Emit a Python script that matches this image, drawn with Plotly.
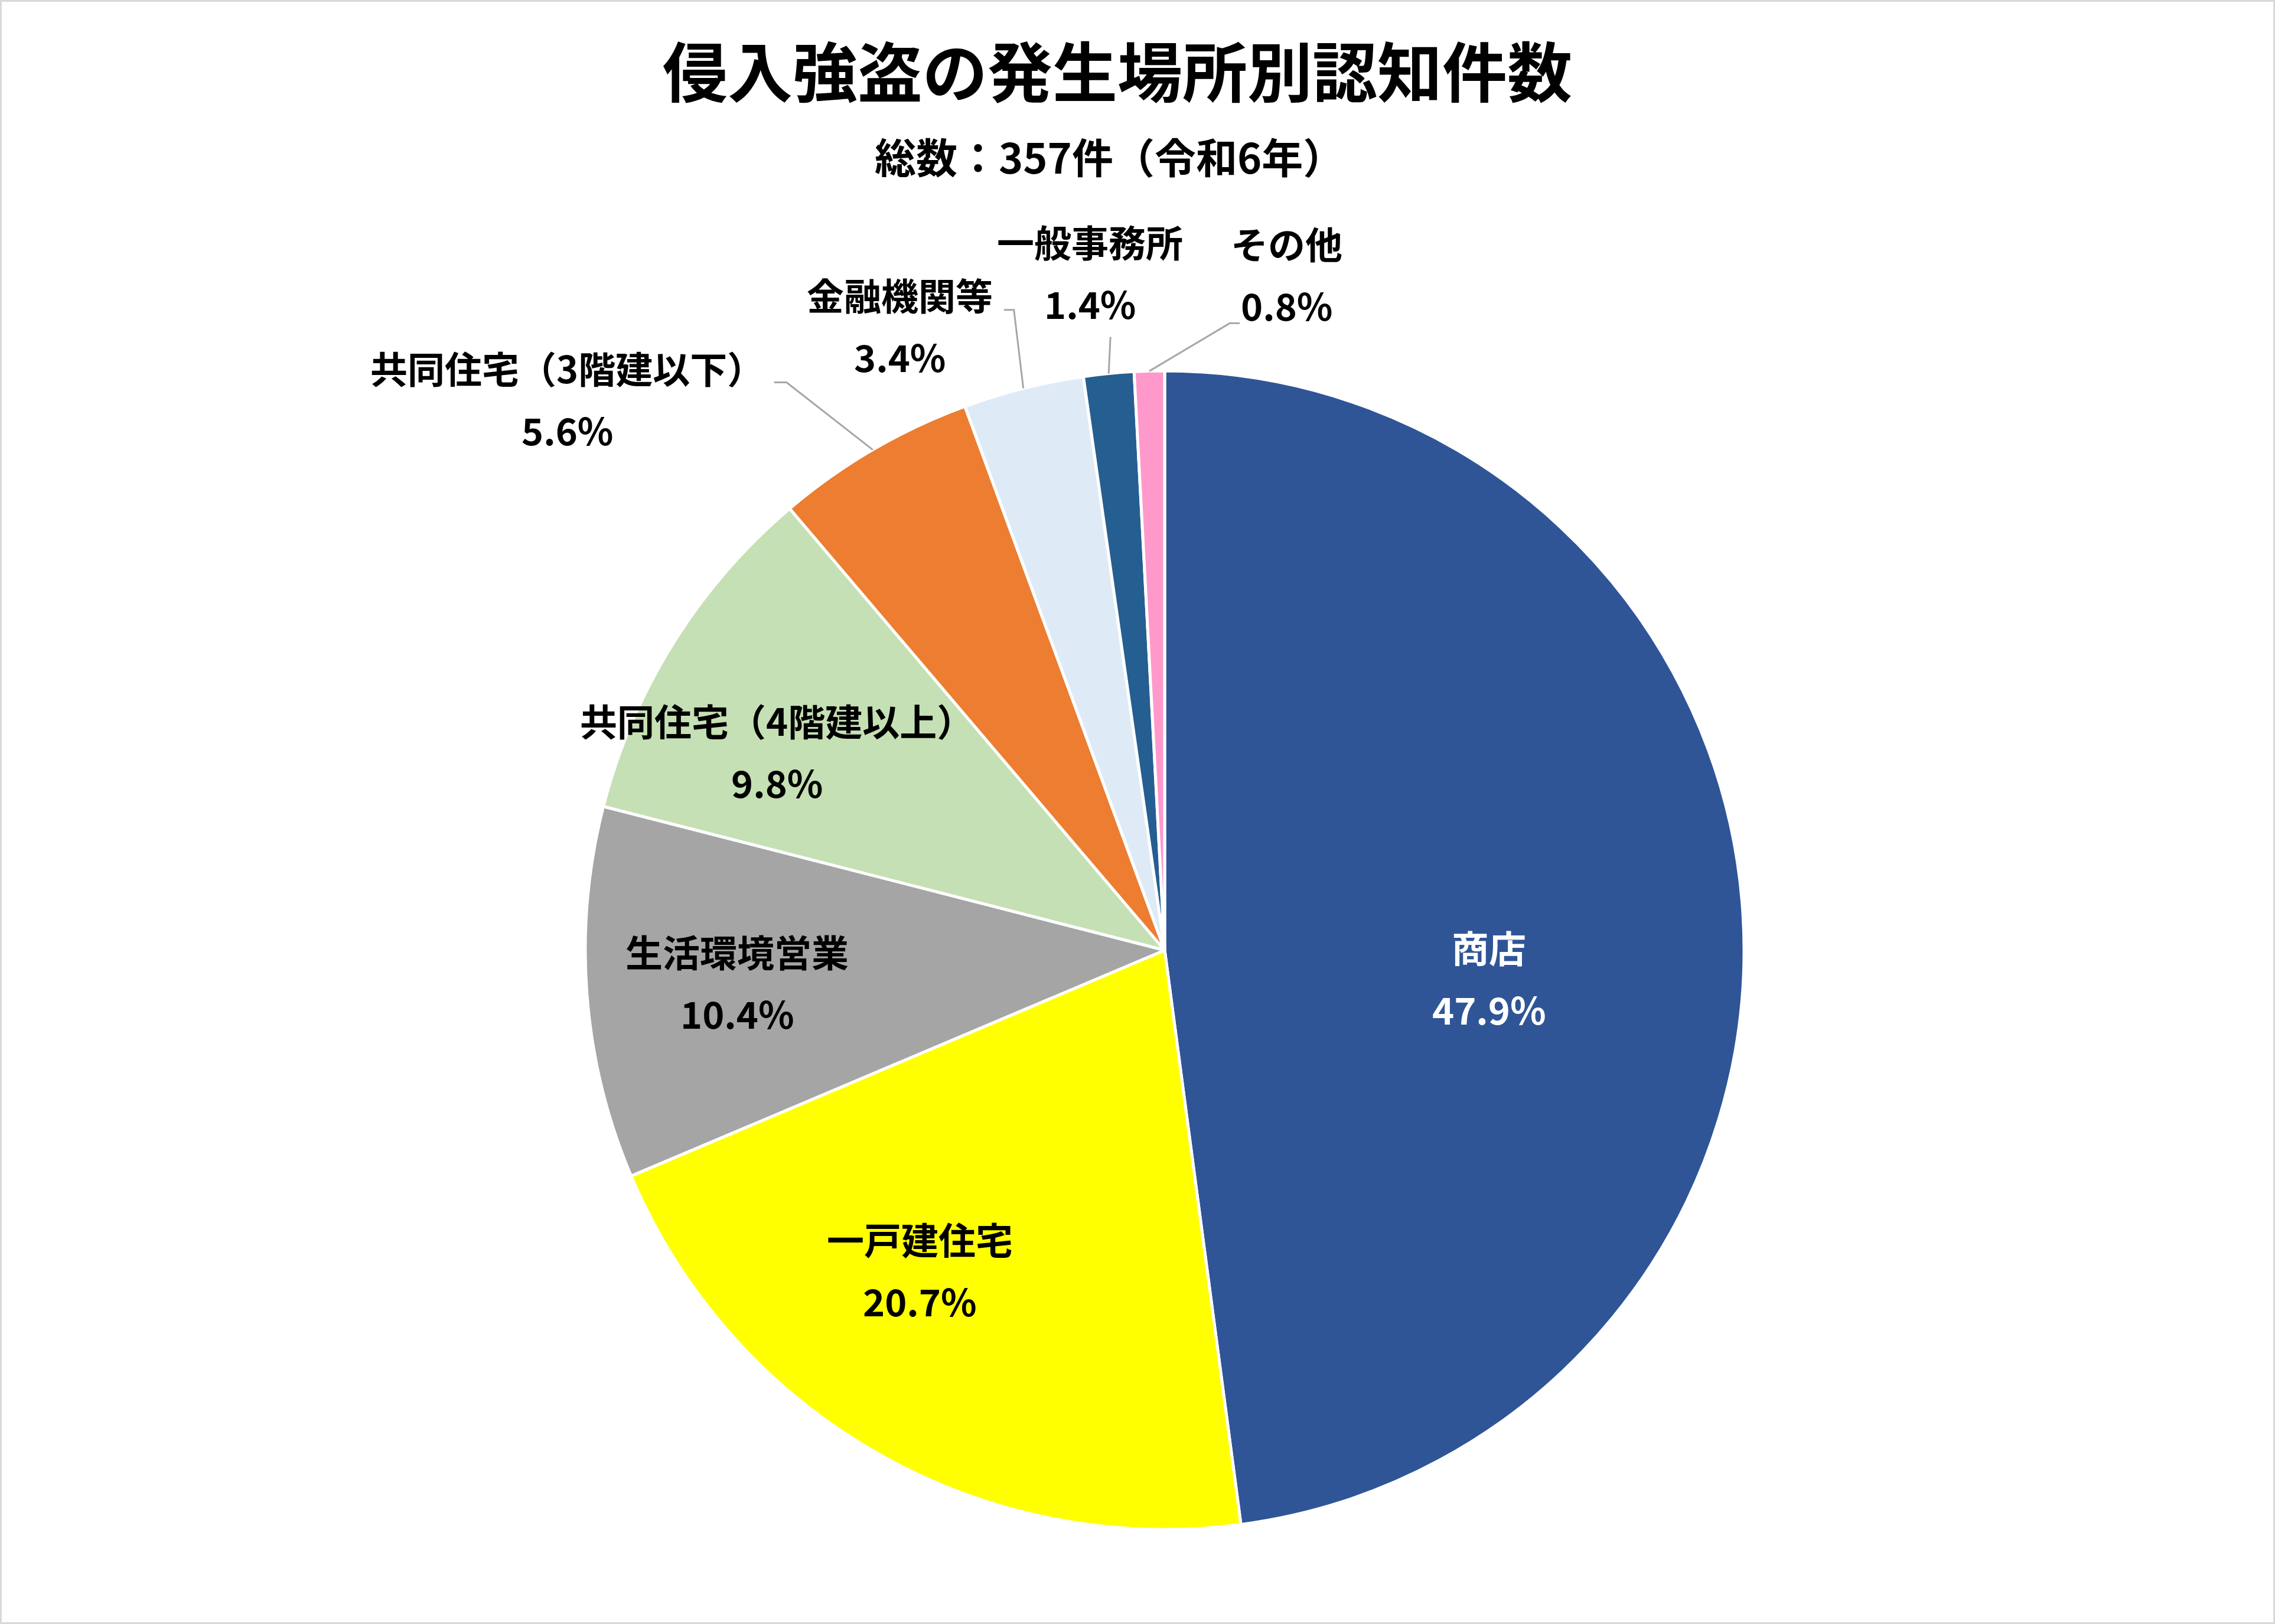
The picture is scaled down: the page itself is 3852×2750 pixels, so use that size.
import math
import plotly.graph_objects as go

# ---- data ----
categories = ["商店", "一戸建住宅", "生活環境営業", "共同住宅（4階建以上）",
              "共同住宅（3階建以下）", "金融機関等", "一般事務所", "その他"]
counts = [171, 74, 37, 35, 20, 12, 5, 3]
title_text = "侵入強盗の発生場所別認知件数"
subtitle_text = "総数：357件（令和6年）"

# ---- styles ----
colors = ["#2F5597", "#FFFF00", "#A5A5A5", "#C5E0B4",
          "#ED7D31", "#DEEBF7", "#255E91", "#FF99CC"]
label_colors = ["white"] + ["black"] * 7
# label placement: (anchor radius fraction, dx px, dy px) for block centre
label_place = [
    (0.6, -38, 85),
    (0.6, -122, 29),
    (0.6, -137, 9),
    (0.6, -157, -26),
    (1.0, -517, -88),
    (1.0, -209, -108),
    (1.0, -32, -173),
    (1.0, 232, -165),
]
# leader lines (relative to slice edge point): elbow, end
leaders = [None, None, None, None,
           ((-146, -114), (-167, -114)),
           ((-16, -133), (-33, -133)),
           ((3, -62), (3, -62)),
           ((136, -81), (153, -81))]

W, H = 3852, 2750
CX, CY, R = 1972, 1609, 981
FONT = "Noto Sans CJK JP"
LABEL_SIZE = 63
LINE_GAP = 105


def px(x):
    return x / W


def py(y):
    return 1 - y / H


total = sum(counts)
percents = [round(100 * c / total, 1) for c in counts]

fig = go.Figure()
fig.add_trace(go.Pie(
    labels=categories,
    values=counts,
    sort=False,
    direction="clockwise",
    rotation=0,
    textinfo="none",
    marker=dict(colors=colors, line=dict(color="white", width=5)),
    domain=dict(x=[px(CX - R), px(CX + R)], y=[py(CY + R), py(CY - R)]),
    showlegend=False,
))

annotations = []
shapes = []
cum = 0
for i, c in enumerate(counts):
    mid = 2 * math.pi * (cum + c / 2) / total
    cum += c
    f, dx, dy = label_place[i]
    ax = CX + f * R * math.sin(mid)
    ay = CY - f * R * math.cos(mid)
    bx, by = ax + dx, ay + dy
    for k, txt in enumerate([categories[i], f"{percents[i]:.1f}%"]):
        yy = by - LINE_GAP / 2 + k * LINE_GAP
        annotations.append(dict(
            x=px(bx), y=py(yy), xref="paper", yref="paper",
            text=txt, showarrow=False, xanchor="center", yanchor="middle",
            font=dict(family=FONT, size=LABEL_SIZE, color=label_colors[i], weight="bold"),
        ))
    if leaders[i] is not None:
        ex = CX + R * math.sin(mid)
        ey = CY - R * math.cos(mid)
        (e1x, e1y), (e2x, e2y) = leaders[i]
        path = (f"M {px(ex)} {py(ey)} L {px(ex + e1x)} {py(ey + e1y)} "
                f"L {px(ex + e2x)} {py(ey + e2y)}")
        shapes.append(dict(type="path", path=path, xref="paper", yref="paper",
                           line=dict(color="#A6A6A6", width=3)))

annotations.append(dict(
    x=px(1892), y=py(116), xref="paper", yref="paper", text=title_text,
    showarrow=False, xanchor="center", yanchor="middle",
    font=dict(family=FONT, size=110, color="black", weight="bold")))
annotations.append(dict(
    x=px(1878), y=py(264), xref="paper", yref="paper", text=subtitle_text,
    showarrow=False, xanchor="center", yanchor="middle",
    font=dict(family=FONT, size=70, color="black", weight="bold")))

shapes.append(dict(type="rect", xref="paper", yref="paper", x0=0, y0=0, x1=1, y1=1,
                   line=dict(color="#D9D9D9", width=6), fillcolor="rgba(0,0,0,0)"))

fig.update_layout(
    width=W, height=H, autosize=False,
    margin=dict(l=0, r=0, t=0, b=0),
    paper_bgcolor="white", plot_bgcolor="white",
    annotations=annotations, shapes=shapes,
    font=dict(family=FONT),
)

fig.write_html("out.html")
